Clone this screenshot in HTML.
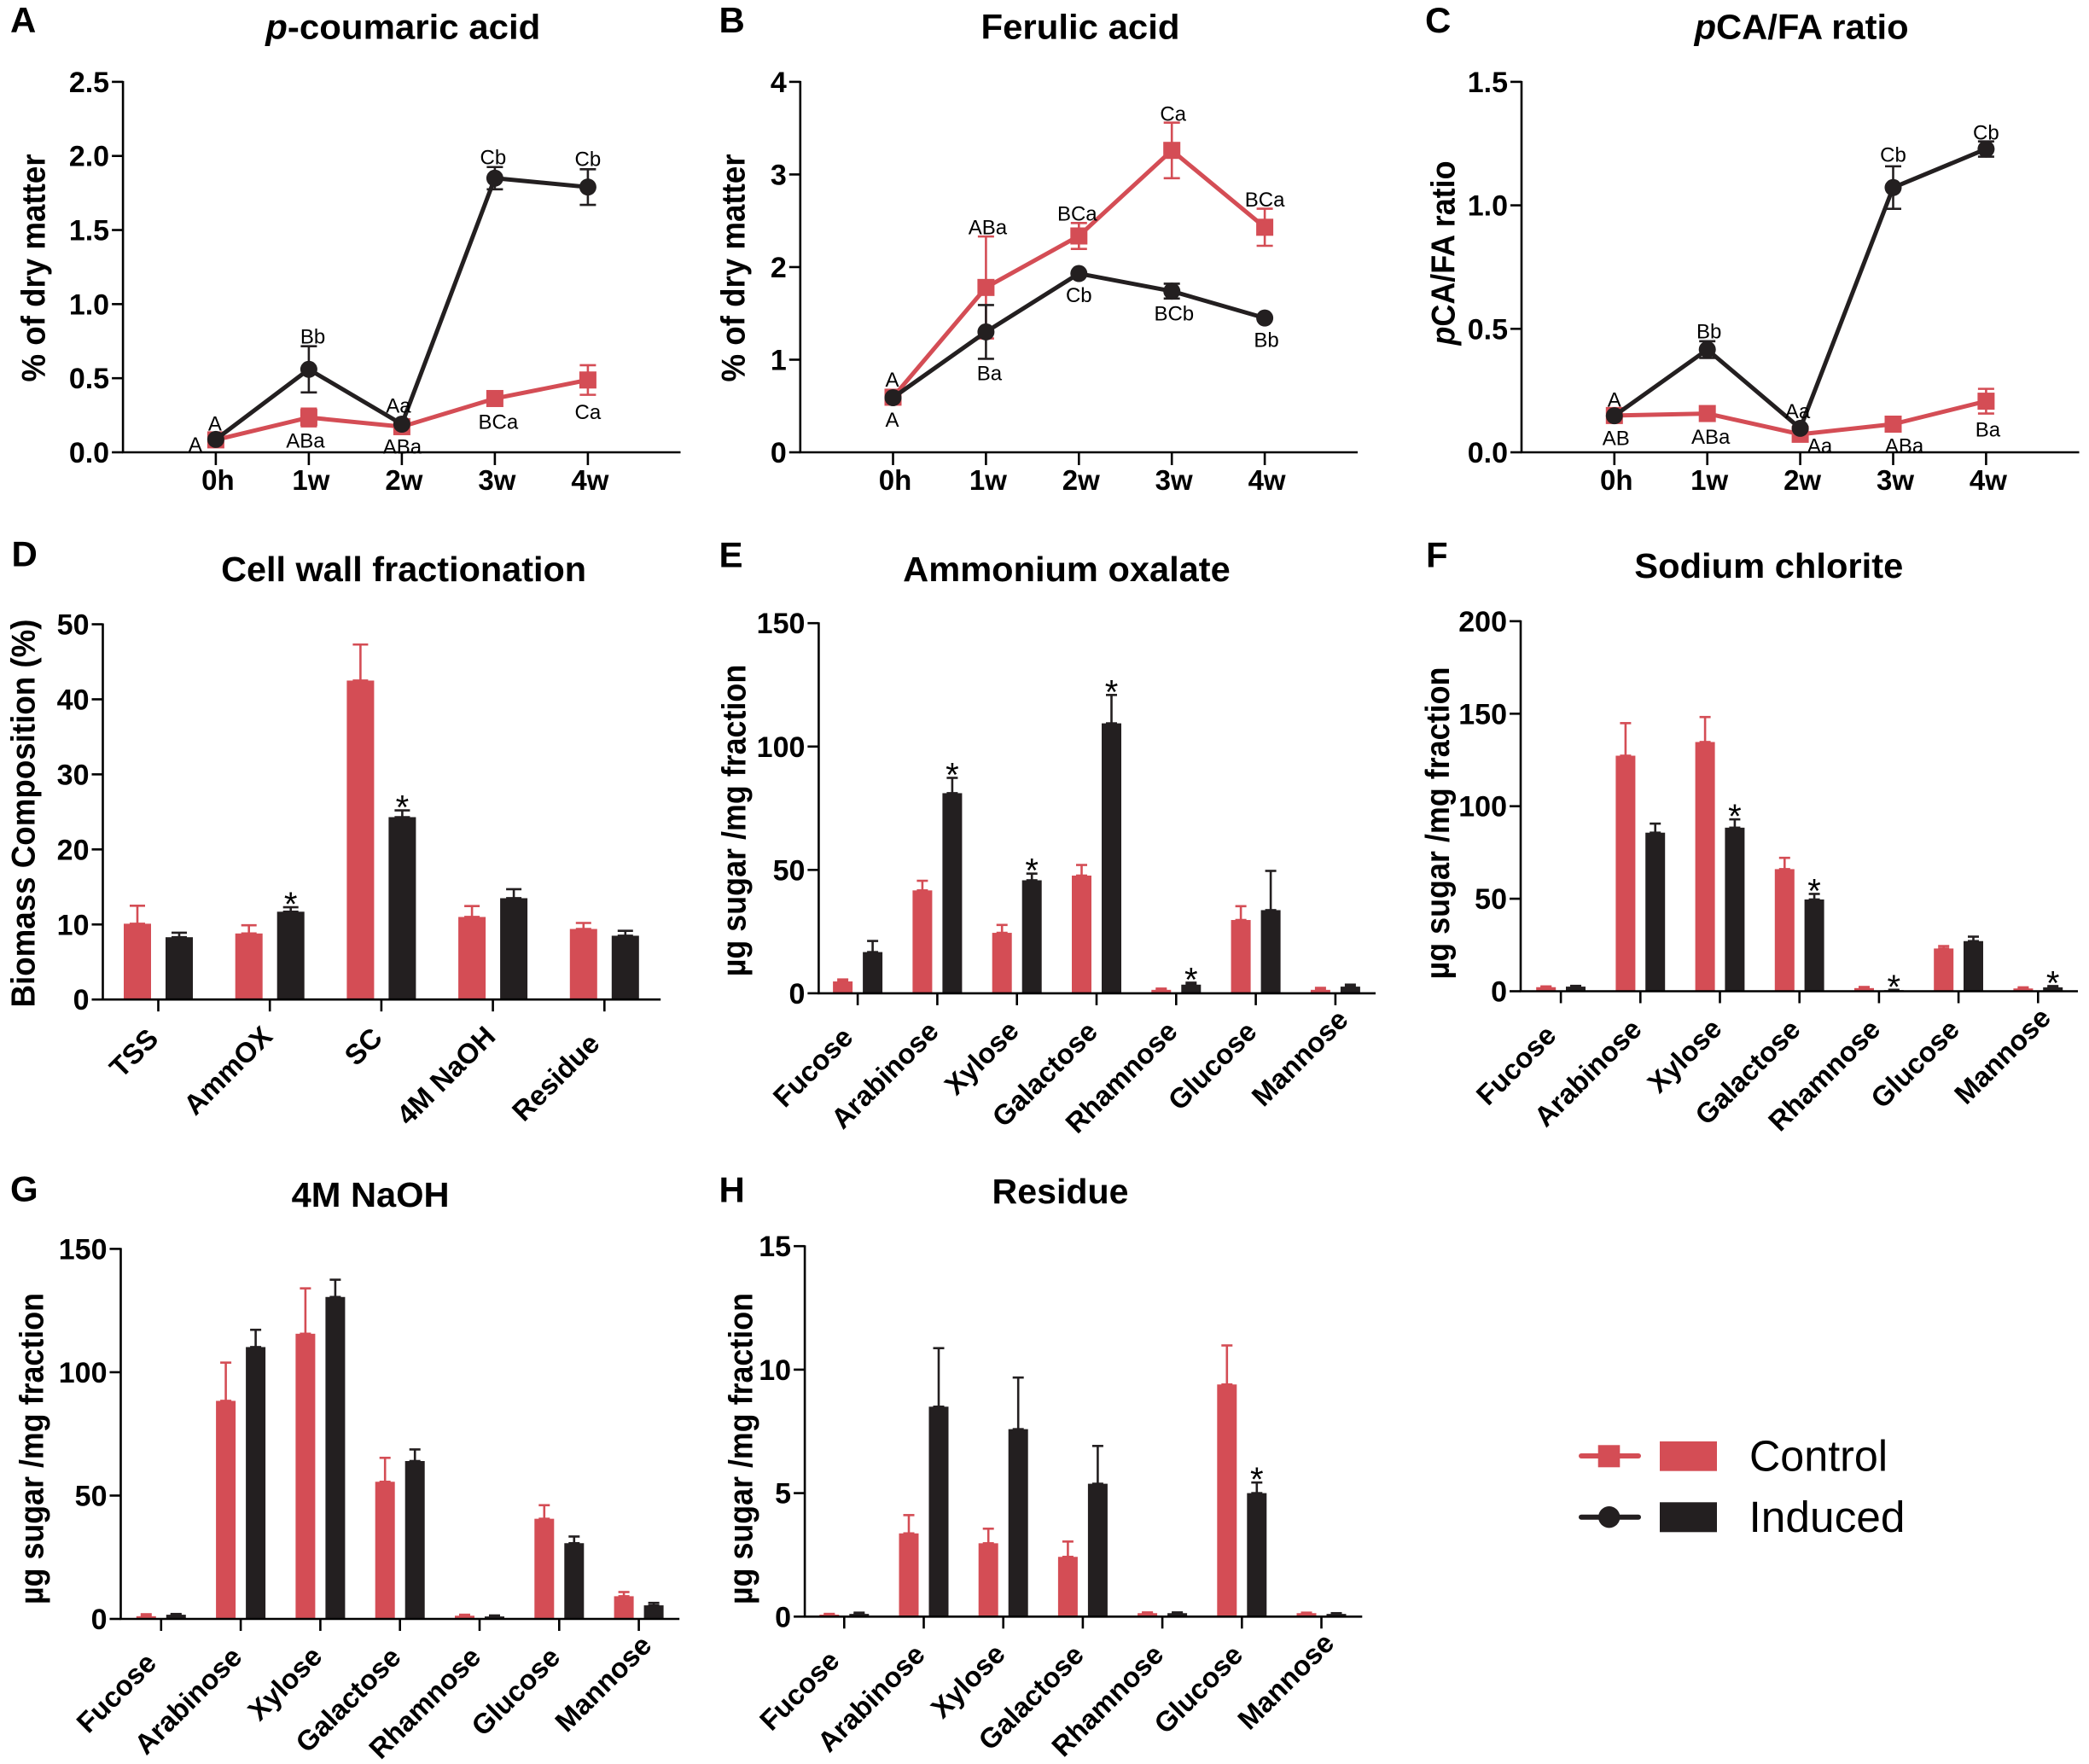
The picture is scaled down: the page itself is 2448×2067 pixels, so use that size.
<!DOCTYPE html>
<html lang="en">
<head>
<meta charset="utf-8">
<title>Cell wall composition figure</title>
<style>
html,body{margin:0;padding:0;background:#fff;}
svg{display:block;}
text{font-family:"Liberation Sans",Arial,sans-serif;fill:#000;}
.title{font-weight:bold;font-size:41px;text-anchor:middle;}
.letter{font-weight:bold;font-size:42px;}
.ytitle{font-weight:bold;font-size:39px;text-anchor:middle;}
.legend-text{font-size:51px;}
</style>
</head>
<body>
<svg id="figure" xmlns="http://www.w3.org/2000/svg" width="2448" height="2067" viewBox="0 0 2448 2067">
<rect width="2448" height="2067" fill="#fff"/>

<g id="panel-a" transform="translate(-2.5 0)">
<text class="letter" x="14.5" y="38">A</text>
<text class="title" x="474.8" y="45.7" textLength="322" lengthAdjust="spacingAndGlyphs"><tspan font-style="italic">p</tspan>-coumaric acid</text>
<text class="ytitle" transform="translate(55 314) rotate(-90)" textLength="267" lengthAdjust="spacingAndGlyphs">% of dry matter</text>
</g>

<g id="panel-b" transform="translate(-2.5 0)">
<text class="letter" x="845" y="38">B</text>
<text class="title" x="1268.5" y="45.7" textLength="233" lengthAdjust="spacingAndGlyphs">Ferulic acid</text>
<text class="ytitle" transform="translate(875 314) rotate(-90)" textLength="267" lengthAdjust="spacingAndGlyphs">% of dry matter</text>
</g>

<g id="panel-c" transform="translate(-2.5 0)">
<text class="letter" x="1672.5" y="38">C</text>
<text class="title" x="2113.6" y="45.7" textLength="251" lengthAdjust="spacingAndGlyphs"><tspan font-style="italic">p</tspan>CA/FA ratio</text>
<text class="ytitle" transform="translate(1707 296.5) rotate(-90)" textLength="216" lengthAdjust="spacingAndGlyphs"><tspan font-style="italic">p</tspan>CA/FA ratio</text>
</g>

<g id="panel-d" transform="translate(-2.5 0)">
<text class="letter" x="16" y="663.5">D</text>
<text class="title" x="475.6" y="681" textLength="428" lengthAdjust="spacingAndGlyphs">Cell wall fractionation</text>
<text class="ytitle" transform="translate(43 953) rotate(-90)" textLength="455" lengthAdjust="spacingAndGlyphs">Biomass Composition (%)</text>
</g>

<g id="panel-e" transform="translate(-2.5 0)">
<text class="letter" x="845" y="664.5">E</text>
<text class="title" x="1252.5" y="681" textLength="383.6" lengthAdjust="spacingAndGlyphs">Ammonium oxalate</text>
<text class="ytitle" transform="translate(876 961.5) rotate(-90)" textLength="365.5" lengthAdjust="spacingAndGlyphs">µg sugar /mg fraction</text>
</g>

<g id="panel-f" transform="translate(-2.5 0)">
<text class="letter" x="1673.5" y="664.5">F</text>
<text class="title" x="2075.3" y="677" textLength="315" lengthAdjust="spacingAndGlyphs">Sodium chlorite</text>
<text class="ytitle" transform="translate(1700.5 964.5) rotate(-90)" textLength="366" lengthAdjust="spacingAndGlyphs">µg sugar /mg fraction</text>
</g>

<g id="panel-g" transform="translate(-2.5 0)">
<text class="letter" x="14.5" y="1407.5">G</text>
<text class="title" x="436.6" y="1414" textLength="185" lengthAdjust="spacingAndGlyphs">4M NaOH</text>
<text class="ytitle" transform="translate(53 1697.5) rotate(-90)" textLength="365" lengthAdjust="spacingAndGlyphs">µg sugar /mg fraction</text>
</g>

<g id="panel-h" transform="translate(-2.5 0)">
<text class="letter" x="845" y="1408.5">H</text>
<text class="title" x="1245" y="1410" textLength="160" lengthAdjust="spacingAndGlyphs">Residue</text>
<text class="ytitle" transform="translate(884 1697.5) rotate(-90)" textLength="365" lengthAdjust="spacingAndGlyphs">µg sugar /mg fraction</text>
</g>

<g id="legend">
<g>
<line x1="1853" y1="1706" x2="1920" y2="1706" stroke="#d44d55" stroke-width="6" stroke-linecap="round"/>
<rect x="1872.7" y="1693.3" width="25.6" height="26" fill="#d44d55"/>
<rect x="1945" y="1689" width="67" height="34.7" fill="#d44d55"/>
<text class="legend-text" x="2050" y="1723.3" textLength="162" lengthAdjust="spacingAndGlyphs">Control</text>
</g>
<g>
<line x1="1853" y1="1777.7" x2="1920" y2="1777.7" stroke="#231f20" stroke-width="6" stroke-linecap="round"/>
<circle cx="1885.7" cy="1777.7" r="12.7" fill="#231f20"/>
<rect x="1945" y="1760.3" width="67" height="35" fill="#231f20"/>
<text class="legend-text" x="2049.5" y="1795" textLength="183" lengthAdjust="spacingAndGlyphs">Induced</text>
</g>
</g>
</svg>

<script>
/* ---------- categories ---------- */
const timeCategories = ['0h', '1w', '2w', '3w', '4w'];
const fractionCategories = ['TSS', 'AmmOX', 'SC', '4M NaOH', 'Residue'];
const sugarCategories = ['Fucose', 'Arabinose', 'Xylose', 'Galactose', 'Rhamnose', 'Glucose', 'Mannose'];

/* ---------- panel A ---------- */
const aTicks = ['0.0', '0.5', '1.0', '1.5', '2.0', '2.5'];
const aControl = [0.084, 0.235, 0.173, 0.363, 0.488];
const aControlErr = [0, 0.06, 0, 0, 0.10];
const aInduced = [0.087, 0.56, 0.19, 1.85, 1.79];
const aInducedErr = [0, 0.156, 0, 0.075, 0.12];
const aControlLabels = ['A', 'ABa', 'ABa', 'BCa', 'Ca'];
const aInducedLabels = ['A', 'Bb', 'Aa', 'Cb', 'Cb'];

/* ---------- panel B ---------- */
const bTicks = ['0', '1', '2', '3', '4'];
const bControl = [0.595, 1.78, 2.336, 3.26, 2.43];
const bControlErr = [0, 0.55, 0.14, 0.3, 0.2];
const bInduced = [0.59, 1.3, 1.93, 1.74, 1.45];
const bInducedErr = [0, 0.29, 0, 0.08, 0];
const bControlLabels = ['A', 'ABa', 'BCa', 'Ca', 'BCa'];
const bInducedLabels = ['A', 'Ba', 'Cb', 'BCb', 'Bb'];

/* ---------- panel C ---------- */
const cTicks = ['0.0', '0.5', '1.0', '1.5'];
const cControl = [0.149, 0.157, 0.073, 0.114, 0.207];
const cControlErr = [0, 0, 0, 0, 0.05];
const cInduced = [0.148, 0.416, 0.097, 1.072, 1.228];
const cInducedErr = [0, 0.034, 0, 0.086, 0.031];
const cControlLabels = ['AB', 'ABa', 'Aa', 'ABa', 'Ba'];
const cInducedLabels = ['A', 'Bb', 'Aa', 'Cb', 'Cb'];

/* ---------- panel D ---------- */
const dTicks = ['0', '10', '20', '30', '40', '50'];
const dControl = [10.1, 8.8, 42.5, 11.0, 9.4];
const dControlErr = [2.4, 1.1, 4.8, 1.45, 0.8];
const dInduced = [8.3, 11.7, 24.3, 13.5, 8.5];
const dInducedErr = [0.6, 0.6, 0.9, 1.2, 0.65];
const dStars = [0, 1, 1, 0, 0];

/* ---------- panel E ---------- */
const eTicks = ['0', '50', '100', '150'];
const eControl = [4.8, 41.7, 24.5, 47.7, 1.4, 29.7, 1.4];
const eControlErr = [0.8, 3.9, 3.2, 4.3, 0.5, 5.6, 0.8];
const eInduced = [16.7, 81.1, 45.8, 109.4, 3.5, 33.7, 2.7];
const eInducedErr = [4.5, 6.2, 2.7, 11.5, 0.8, 15.9, 0.8];
const eStars = [0, 1, 1, 1, 1, 0, 0];

/* ---------- panel F ---------- */
const fTicks = ['0', '50', '100', '150', '200'];
const fControl = [2.2, 127.3, 134.7, 66, 1.7, 23.1, 1.5];
const fControlErr = [0.4, 17.6, 13.5, 6.1, 0.6, 1.3, 0.6];
const fInduced = [2.5, 85.7, 88.4, 49.6, 0.6, 27.1, 2.1];
const fInducedErr = [0.4, 4.9, 4.5, 3, 0.2, 2.4, 0.7];
const fStars = [0, 0, 1, 1, 1, 0, 1];

/* ---------- panel G ---------- */
const gTicks = ['0', '50', '100', '150'];
const gControl = [1.1, 88.4, 115.6, 55.6, 1.3, 40.6, 9.2];
const gControlErr = [0.8, 15.5, 18.4, 9.7, 0.4, 5.5, 1.7];
const gInduced = [1.7, 110.2, 130.5, 64, 1, 30.7, 5.5];
const gInducedErr = [0.3, 7, 7, 4.7, 0.4, 2.7, 1];
const gStars = [0, 0, 0, 0, 0, 0, 0];

/* ---------- panel H ---------- */
const hTicks = ['0', '5', '10', '15'];
const hControl = [0.08, 3.37, 2.97, 2.42, 0.14, 9.4, 0.14];
const hControlErr = [0.03, 0.74, 0.59, 0.62, 0.03, 1.58, 0.02];
const hInduced = [0.11, 8.5, 7.59, 5.38, 0.14, 5, 0.11];
const hInducedErr = [0.05, 2.37, 2.09, 1.53, 0.03, 0.43, 0.03];
const hStars = [0, 0, 0, 0, 0, 1, 0];

/* ---------- layout (frames and label nudges, not data) ---------- */
const RED = '#d44d55';
const DARK = '#231f20';
const SVG_NS = 'http://www.w3.org/2000/svg';

const frameA = {axis: 146.6, top: 95.9, base: 530, right: 800, first: 255.4, step: 109};
const frameB = {axis: 940.3, top: 95.9, base: 530, right: 1593.5, first: 1049, step: 108.9};
const frameC = {axis: 1785.5, top: 95.9, base: 530, right: 2439, first: 1894.3, step: 108.9};
const frameD = {axis: 123, top: 731.5, base: 1171.2, right: 776.7, first: 188, step: 130.7, barW: 32, barOff: 24.5, cap: 9};
const frameE = {axis: 961.9, top: 730.2, base: 1163.9, right: 1614.5, first: 1007.6, step: 93.3, barW: 23, barOff: 17.5, cap: 6.5};
const frameF = {axis: 1784.5, top: 727.9, base: 1161.5, right: 2437.5, first: 1831.6, step: 93.2, barW: 23, barOff: 17.4, cap: 6.5};
const frameG = {axis: 144, top: 1463.4, base: 1897, right: 798.7, first: 191.3, step: 93.3, barW: 23, barOff: 17.5, cap: 6.5};
const frameH = {axis: 945.6, top: 1460.2, base: 1894.3, right: 1598.8, first: 991.8, step: 93.2, barW: 23, barOff: 17.5, cap: 6.5};

const nudgeAControl = [[-24, 13.5], [-4, 35.5], [0.5, 31.5], [4, 35.5], [0, 45.5]];
const nudgeAInduced = [[-1, -10.5], [4.7, -30.5], [-4, -13.5], [-2, -16.5], [0, -24.5]];
const nudgeBControl = [[-1, -12.5], [2, -62.5], [-2, -18], [1.5, -34.5], [0, -24.5]];
const nudgeBInduced = [[-1, 34], [4, 56.5], [0, 33.5], [2.6, 34.5], [2, 34]];
const nudgeCControl = [[2, 34.5], [4, 35.5], [23, 21.5], [13, 33.5], [2, 41.5]];
const nudgeCInduced = [[0, -10.5], [2, -13.2], [-3, -12], [0, -30.5], [0, -11.2]];
const slideSugarLabels = [-8, 2, 3, 1.5, 2, 1.5, 21];
const slideFractionLabels = [0, 4, 1.5, 4, -8];

function mk(tag, attrs, parent, content) {
  const node = document.createElementNS(SVG_NS, tag);
  for (const key in attrs) node.setAttribute(key, attrs[key]);
  if (content !== undefined) node.textContent = content;
  parent.appendChild(node);
  return node;
}

function yScaleFor(frame, ticks) {
  const maxValue = parseFloat(ticks[ticks.length - 1]);
  return function (v) { return frame.base - (v / maxValue) * (frame.base - frame.top); };
}
function xScaleFor(frame) {
  return function (i) { return frame.first + i * frame.step; };
}

function drawAxes(group, frame, ticks, yScale) {
  const yLine = mk('line', {x1: frame.axis, y1: frame.top - 1, x2: frame.axis, y2: frame.base + 1, stroke: '#000', 'stroke-width': 2.6}, group);
  
  
  const xLine = mk('line', {x1: frame.axis - 1, y1: frame.base, x2: frame.right, y2: frame.base, stroke: '#000', 'stroke-width': 2.6}, group);
  
  
  ticks.forEach(function (label) {
    const y = yScale(parseFloat(label));
    const tick = mk('line', {x1: frame.axis - 13, y1: y, x2: frame.axis, y2: y, stroke: '#000', 'stroke-width': 2.6}, group);
    
    
    const text = mk('text', {x: frame.axis - 16, y: y + 12, 'text-anchor': 'end', 'font-weight': 'bold', 'font-size': 34}, group, label);
    
    
  });
}

function drawErrorBar(group, cx, yHigh, yLow, halfCap, color, name) {
  const stem = mk('line', {x1: cx, y1: yHigh, x2: cx, y2: yLow, stroke: color, 'stroke-width': 2.6}, group);
  
  
  const capTop = mk('line', {x1: cx - halfCap, y1: yHigh, x2: cx + halfCap, y2: yHigh, stroke: color, 'stroke-width': 2.6}, group);
  
  
  if (yLow !== yHigh) {
    const capLow = mk('line', {x1: cx - halfCap, y1: yLow, x2: cx + halfCap, y2: yLow, stroke: color, 'stroke-width': 2.6}, group);
    
    
  }
}

function drawSeries(group, values, errors, color, shape, x, y, seriesName) {
  const pts = values.map(function (v, i) { return x(i) + ',' + y(v); }).join(' ');
  const path = mk('polyline', {points: pts, fill: 'none', stroke: color, 'stroke-width': 5, 'stroke-linejoin': 'round'}, group);
  
  
  values.forEach(function (v, i) {
    if (errors[i] > 0) {
      drawErrorBar(group, x(i), y(v + errors[i]), y(v - errors[i]), 9.5, color, seriesName + '-error-bar');
    }
    if (shape === 'square') {
      const square = mk('rect', {x: x(i) - 10, y: y(v) - 10, width: 20, height: 20, fill: color}, group);
      
      
    } else {
      const dot = mk('circle', {cx: x(i), cy: y(v), r: 10, fill: color}, group);
      
      
    }
  });
}

function drawLetters(group, values, letters, nudges, x, y, seriesName) {
  letters.forEach(function (letter, i) {
    const label = mk('text', {x: x(i) + nudges[i][0], y: y(values[i]) + nudges[i][1], 'text-anchor': 'middle', 'font-size': 24}, group, letter);
    
    
  });
}

function drawLinePanel(id, frame, ticks, control, controlErr, induced, inducedErr, controlLabels, inducedLabels, nudgeControl, nudgeInduced) {
  const group = document.getElementById(id);
  const y = yScaleFor(frame, ticks);
  const x = xScaleFor(frame);
  drawAxes(group, frame, ticks, y);
  timeCategories.forEach(function (cat, i) {
    const tick = mk('line', {x1: x(i), y1: frame.base, x2: x(i), y2: frame.base + 15, stroke: '#000', 'stroke-width': 2.6}, group);
    
    
    const label = mk('text', {x: x(i) + 2.5, y: 574, 'text-anchor': 'middle', 'font-weight': 'bold', 'font-size': 33}, group, cat);
    
    
  });
  drawSeries(group, control, controlErr, RED, 'square', x, y, 'control');
  drawSeries(group, induced, inducedErr, DARK, 'circle', x, y, 'induced');
  drawLetters(group, control, controlLabels, nudgeControl, x, y, 'control');
  drawLetters(group, induced, inducedLabels, nudgeInduced, x, y, 'induced');
}

function drawBarPanel(id, frame, ticks, categories, slides, control, controlErr, induced, inducedErr, stars) {
  const group = document.getElementById(id);
  const y = yScaleFor(frame, ticks);
  const x = xScaleFor(frame);
  function oneBar(cx, value, err, color, seriesName) {
    drawErrorBar(group, cx, y(value + err), y(value), frame.cap, color, seriesName + '-error-bar');
    const bar = mk('rect', {x: cx - frame.barW / 2, y: y(value), width: frame.barW, height: frame.base - y(value), fill: color}, group);
    
    
  }
  categories.forEach(function (cat, i) {
    oneBar(x(i) - frame.barOff, control[i], controlErr[i], RED, 'control');
    oneBar(x(i) + frame.barOff, induced[i], inducedErr[i], DARK, 'induced');
    if (stars[i]) {
      const star = mk('text', {x: x(i) + frame.barOff, y: y(induced[i] + inducedErr[i]) + 10, 'text-anchor': 'middle', 'font-size': 40}, group, '*');
      
      
    }
    const tick = mk('line', {x1: x(i), y1: frame.base, x2: x(i), y2: frame.base + 14, stroke: '#000', 'stroke-width': 2.6}, group);
    
    
    const label = mk('text', {x: slides[i], 'text-anchor': 'end', 'font-weight': 'bold', 'font-size': 33, transform: 'translate(' + (x(i) + 2) + ' ' + (frame.base + 48) + ') rotate(-45)'}, group, cat);
    
    
  });
  drawAxes(group, frame, ticks, y);
}

drawLinePanel('panel-a', frameA, aTicks, aControl, aControlErr, aInduced, aInducedErr, aControlLabels, aInducedLabels, nudgeAControl, nudgeAInduced);
drawLinePanel('panel-b', frameB, bTicks, bControl, bControlErr, bInduced, bInducedErr, bControlLabels, bInducedLabels, nudgeBControl, nudgeBInduced);
drawLinePanel('panel-c', frameC, cTicks, cControl, cControlErr, cInduced, cInducedErr, cControlLabels, cInducedLabels, nudgeCControl, nudgeCInduced);
drawBarPanel('panel-d', frameD, dTicks, fractionCategories, slideFractionLabels, dControl, dControlErr, dInduced, dInducedErr, dStars);
drawBarPanel('panel-e', frameE, eTicks, sugarCategories, slideSugarLabels, eControl, eControlErr, eInduced, eInducedErr, eStars);
drawBarPanel('panel-f', frameF, fTicks, sugarCategories, slideSugarLabels, fControl, fControlErr, fInduced, fInducedErr, fStars);
drawBarPanel('panel-g', frameG, gTicks, sugarCategories, slideSugarLabels, gControl, gControlErr, gInduced, gInducedErr, gStars);
drawBarPanel('panel-h', frameH, hTicks, sugarCategories, slideSugarLabels, hControl, hControlErr, hInduced, hInducedErr, hStars);
</script>
</body>
</html>
